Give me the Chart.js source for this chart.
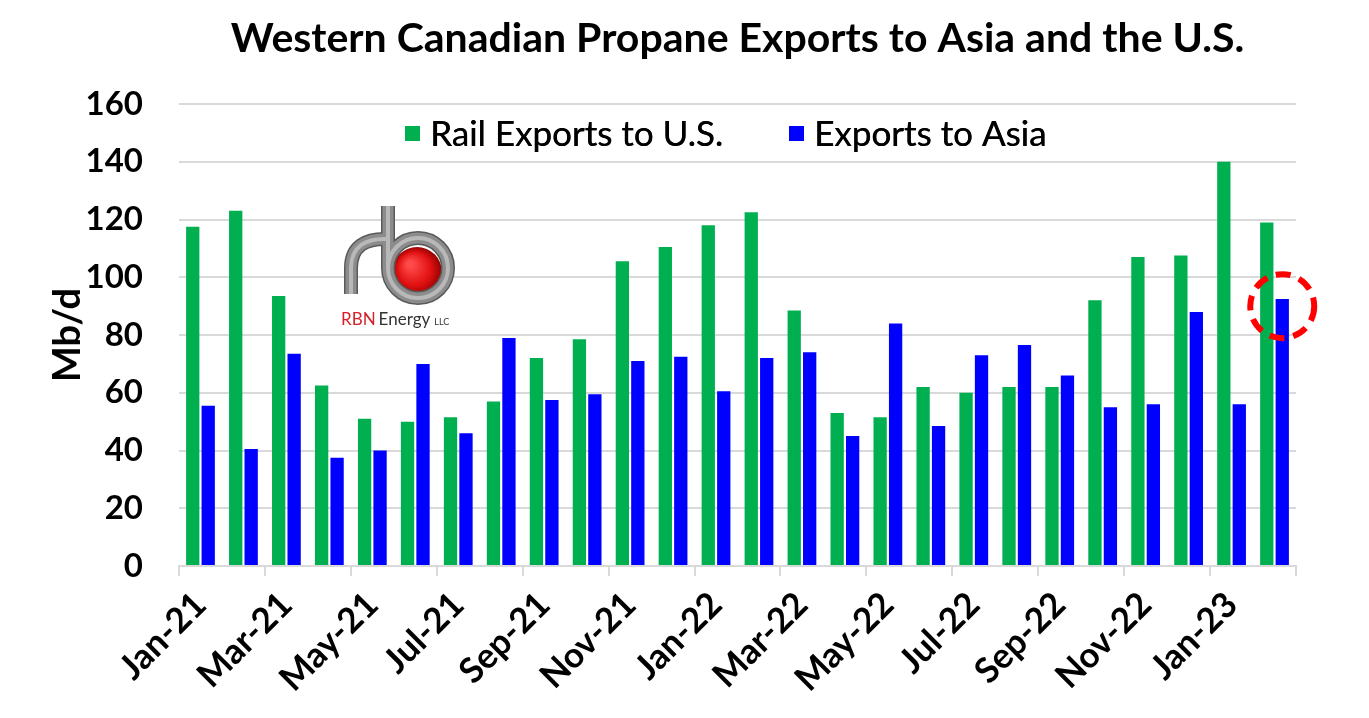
<!DOCTYPE html>
<html>
<head>
<meta charset="utf-8">
<script src="https://cdn.jsdelivr.net/npm/chart.js@4.4.1/dist/chart.umd.min.js"></script>
<style>
  html, body { margin: 0; padding: 0; background: #ffffff; }
  #wrap { width: 1369px; height: 718px; position: relative; }
</style>
</head>
<body>
<div id="wrap"><canvas id="c" width="1369" height="718"></canvas></div>
<script>
const months = ["Jan-21","Feb-21","Mar-21","Apr-21","May-21","Jun-21","Jul-21","Aug-21","Sep-21","Oct-21","Nov-21","Dec-21",
                "Jan-22","Feb-22","Mar-22","Apr-22","May-22","Jun-22","Jul-22","Aug-22","Sep-22","Oct-22","Nov-22","Dec-22",
                "Jan-23","Feb-23"];
const railExportsUS = [117.5,123,93.5,62.5,51,50,51.5,57,72,78.5,105.5,110.5,118,122.5,88.5,53,51.5,62,60,62,62,92,107,107.5,140,119];
const exportsAsia   = [55.5,40.5,73.5,37.5,40,70,46,79,57.5,59.5,71,72.5,60.5,72,74,45,84,48.5,73,76.5,66,55,56,88,56,92.5];
const yTicks = [0,20,40,60,80,100,120,140,160];
const seriesNames = ["Rail Exports to U.S.", "Exports to Asia"];
const seriesColors = ["#00b050", "#0000ff"];
const titleText = "Western Canadian Propane Exports to Asia and the U.S.";
const highlightIndex = 25;   // Feb-23 Asia bar circled
const highlightValue = 90;

const FONT = "Lato, 'Open Sans', sans-serif";
const GRID = "#d9d9d9";

// Legend drawn inside plot area (as in the reference)
const insideLegend = {
  id: 'insideLegend',
  afterDraw(chart) {
    const ctx = chart.ctx, ca = chart.chartArea;
    ctx.save();
    ctx.font = "35px " + FONT;
    ctx.textBaseline = 'middle';
    let x = ca.left + 226;
    const y = ca.top + 30;
    chart.data.datasets.forEach((ds, i) => {
      ctx.fillStyle = ds.backgroundColor;
      ctx.fillRect(x, y - 8, 15, 15);
      ctx.fillStyle = '#000';
      ctx.textAlign = 'left';
      ctx.fillText(ds.label, x + 25, y + 1);
      ctx.fillText(ds.label, x + 25.4, y + 1);
      x += 25 + ctx.measureText(ds.label).width + 66;
    });
    ctx.restore();
  }
};

// RBN Energy logo (decorative)
const logoPlugin = {
  id: 'logo',
  afterDatasetsDraw(chart) {
    const ctx = chart.ctx;
    ctx.save();
    const g = ctx.createRadialGradient(410, 264, 3, 417, 272, 26);
    g.addColorStop(0, '#ff4a4a');
    g.addColorStop(0.6, '#e01010');
    g.addColorStop(1, '#8a0000');
    ctx.fillStyle = g;
    ctx.beginPath(); ctx.arc(417, 272, 25, 0, Math.PI * 2); ctx.fill();
    function pipePath() {
      ctx.beginPath();
      ctx.moveTo(388, 206);
      ctx.lineTo(388, 268);
      ctx.arc(418, 268, 30, Math.PI, Math.PI * 3, false);
      ctx.moveTo(351, 294);
      ctx.lineTo(351, 268);
      ctx.bezierCurveTo(351, 246, 366, 238, 388, 239);
    }
    ctx.lineCap = 'butt';
    ctx.strokeStyle = '#5a5a5a'; ctx.lineWidth = 14; pipePath(); ctx.stroke();
    ctx.strokeStyle = '#8c8c8c'; ctx.lineWidth = 11; pipePath(); ctx.stroke();
    ctx.strokeStyle = '#b8b8b8'; ctx.lineWidth = 4; pipePath(); ctx.stroke();
    ctx.textBaseline = 'alphabetic';
    ctx.textAlign = 'left';
    ctx.font = "17px " + FONT;
    ctx.fillStyle = '#d6202a';
    ctx.fillText('RBN', 341, 325);
    let w = ctx.measureText('RBN').width + 3;
    ctx.fillStyle = '#333333';
    ctx.fillText('Energy', 341 + w, 325);
    w += ctx.measureText('Energy').width + 4;
    ctx.font = "9px " + FONT;
    ctx.fillText('LLC', 341 + w, 325);
    ctx.restore();
  }
};

// dashed red circle highlight around last Asia bar
const highlightPlugin = {
  id: 'highlight',
  afterDatasetsDraw(chart) {
    const meta = chart.getDatasetMeta(1);
    const bar = meta.data[highlightIndex];
    if (!bar) return;
    const ctx = chart.ctx;
    const cy = chart.scales.y.getPixelForValue(highlightValue);
    ctx.save();
    ctx.strokeStyle = '#ff0000';
    ctx.lineWidth = 6;
    ctx.setLineDash([15, 9]);
    ctx.beginPath();
    ctx.arc(bar.x, cy, 32, 0, Math.PI * 2);
    ctx.stroke();
    ctx.restore();
  }
};

new Chart(document.getElementById('c'), {
  type: 'bar',
  data: {
    labels: months,
    datasets: [
      { label: seriesNames[0], data: railExportsUS, backgroundColor: seriesColors[0] },
      { label: seriesNames[1], data: exportsAsia, backgroundColor: seriesColors[1] }
    ]
  },
  options: {
    responsive: false,
    animation: false,
    devicePixelRatio: 1,
    layout: { padding: { left: 45, right: 73, top: 0, bottom: 0 } },
    datasets: { bar: { categoryPercentage: 0.72, barPercentage: 0.86 } },
    plugins: {
      legend: { display: false },
      tooltip: { enabled: false },
      title: {
        display: true,
        text: titleText,
        fullSize: false,
        color: '#000',
        font: { family: FONT, size: 41, weight: 'bold', lineHeight: 1.2 },
        padding: { top: 14, bottom: 40.8 }
      }
    },
    scales: {
      x: {
        offset: true,
        grid: {
          display: true,
          offset: true,
          drawOnChartArea: false,
          drawTicks: true,
          tickLength: 10,
          lineWidth: 2,
          color: (c) => (c.index === undefined || c.index % 2 === 0) ? GRID : 'rgba(0,0,0,0)'
        },
        border: { display: true, color: GRID, width: 2 },
        ticks: {
          autoSkip: false,
          maxRotation: 45,
          minRotation: 45,
          padding: 8,
          color: '#000',
          font: { family: FONT, size: 35, weight: 'bold' },
          callback: function (v, i) { return i % 2 === 0 ? this.getLabelForValue(v) : ''; }
        },
        afterFit: (s) => { s.height = 152; }
      },
      y: {
        min: 0,
        max: 160,
        afterBuildTicks: (s) => { s.ticks = yTicks.map(v => ({ value: v })); },
        grid: { color: GRID, lineWidth: 2, drawTicks: false },
        border: { display: false },
        ticks: {
          padding: 36,
          color: '#000',
          font: { family: FONT, size: 33, weight: 'bold' }
        },
        title: {
          display: true,
          text: 'Mb/d',
          color: '#000',
          padding: 0,
          font: { family: FONT, size: 38, weight: 'bold', lineHeight: 1.2 }
        },
        afterFit: (s) => { s.width = 134; }
      }
    }
  },
  plugins: [logoPlugin, highlightPlugin, insideLegend]
});
</script>
</body>
</html>
